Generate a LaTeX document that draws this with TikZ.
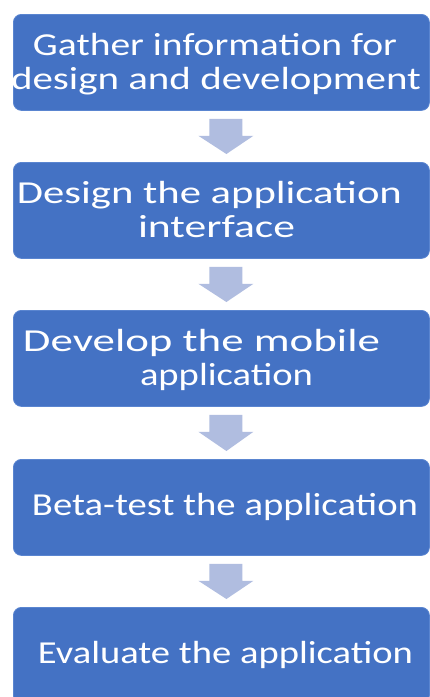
\documentclass[tikz,border=0pt]{standalone}
\usepackage{fontspec}
\usepackage{graphicx}
\setmainfont{Carlito}
\usetikzlibrary{calc}
\definecolor{boxblue}{HTML}{4472C4}
\definecolor{boxedge}{HTML}{5A85D0}
\definecolor{arrowblue}{HTML}{B0BDE0}
\newlength\fitlen
\newcommand{\fitwidth}[2]{\settowidth{\fitlen}{#2}\scalebox{\fpeval{#1/\fitlen}}[1]{#2}}
\tikzset{
  stepbox/.style={fill=boxblue, draw=boxedge, line width=0.8pt, rounded corners=8pt,
    minimum width=416pt, minimum height=96pt, anchor=north west, inner sep=0pt},
  steptext/.style={text=white, inner sep=0pt, anchor=base,
    font=\fontsize{32}{34}\selectfont},
  flowarrow/.style={fill=arrowblue, draw=none}
}
\newcommand{\flowarr}[2]{%
  \fill[flowarrow] ($(#1.south)+(-12,-8)$) -- ($(#1.south)+(21,-8)$) -- ($(#1.south)+(21,-25)$)
    -- ($(#1.south)+(32,-25)$) -- ($(#2.north)+(5,8)$) -- ($(#1.south)+(-23,-25)$)
    -- ($(#1.south)+(-12,-25)$) -- cycle;}
\begin{document}
\begin{tikzpicture}[x=1pt,y=1pt]
\useasboundingbox (0,0) rectangle (430,-697);
\fill[white] (0,0) rectangle (430,-697);
\node[stepbox] (b1) at (13,-14) {};
\node[stepbox] (b2) at (13,-162) {};
\node[stepbox] (b3) at (13,-310) {};
\node[stepbox] (b4) at (13,-459) {};
\node[stepbox] (b5) at (13,-607) {};
\node[steptext] (t1a) at ($(b1.north west)+(202,-41)$) {\fitwidth{364}{Gather information for}};
\node[steptext] (t1b) at ($(b1.north west)+(203,-75)$) {\fitwidth{410}{design and development}};
\node[steptext] (t2a) at ($(b2.north west)+(196.5,-41)$) {\fitwidth{385}{Design the application}};
\node[steptext] (t2b) at ($(b2.north west)+(203.5,-75)$) {\fitwidth{157}{interface}};
\node[steptext] (t3a) at ($(b3.north west)+(188.5,-41)$) {\fitwidth{357}{Develop the mobile}};
\node[steptext] (t3b) at ($(b3.north west)+(213.5,-75)$) {\fitwidth{173}{application}};
\node[steptext] (t4) at ($(b4.north west)+(212,-56)$) {\fitwidth{386}{Beta-test the application}};
\node[steptext] (t5) at ($(b5.north west)+(212.5,-56)$) {\fitwidth{375}{Evaluate the application}};
\flowarr{b1}{b2}
\flowarr{b2}{b3}
\flowarr{b3}{b4}
\flowarr{b4}{b5}
\end{tikzpicture}
\end{document}
